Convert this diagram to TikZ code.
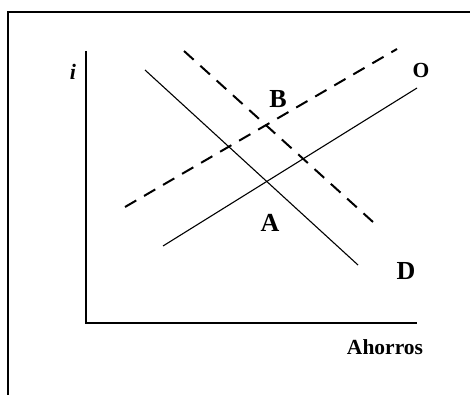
\documentclass[tikz,border=0pt]{standalone}
\usepackage{fontspec}
\setmainfont{Liberation Serif}
\begin{document}
\begin{tikzpicture}[x=1pt,y=-1pt,
  frameline/.style={line width=1.3pt},
  axisline/.style={line width=1.4pt},
  curve/.style={line width=1.1pt},
  dcurve/.style={line width=2pt,dash pattern=on 13pt off 9pt},
  lbl/.style={font=\bfseries\fontsize{26}{26}\selectfont,inner sep=0pt},
  slbl/.style={font=\bfseries\fontsize{21.5}{21.5}\selectfont,inner sep=0pt}]
\useasboundingbox (0,0) rectangle (470,395);
% frame
\coordinate (f1) at (8,395);
\coordinate (f2) at (8,12);
\coordinate (f3) at (470,12);
\draw[frameline] (f1) -- (f2) -- (f3);
% axes
\coordinate (ytop) at (86,51);
\coordinate (orig) at (86,323);
\coordinate (xend) at (417,323);
\draw[axisline] (ytop) -- (orig) -- (xend);
% curves
\coordinate (d1) at (145,70);
\coordinate (d2) at (358,265);
\coordinate (o1) at (163,246);
\coordinate (o2) at (417,88);
\coordinate (od1) at (125,207);
\coordinate (od2) at (397,49);
\coordinate (dd1) at (184,51);
\coordinate (dd2) at (373,222);
\draw[curve] (d1) -- (d2);
\draw[curve] (o1) -- (o2);
\draw[dcurve] (od1) -- (od2);
\draw[dcurve] (dd1) -- (dd2);
% labels
\node[slbl,font=\bfseries\itshape\fontsize{22}{22}\selectfont] (li) at (73,72) {i};
\node[slbl] (lO) at (421,70) {O};
\node[lbl] (lB) at (278,99) {B};
\node[lbl] (lA) at (270,223) {A};
\node[lbl] (lD) at (406,271) {D};
\node[slbl] (lAh) at (385,347) {Ahorros};
\end{tikzpicture}
\end{document}
